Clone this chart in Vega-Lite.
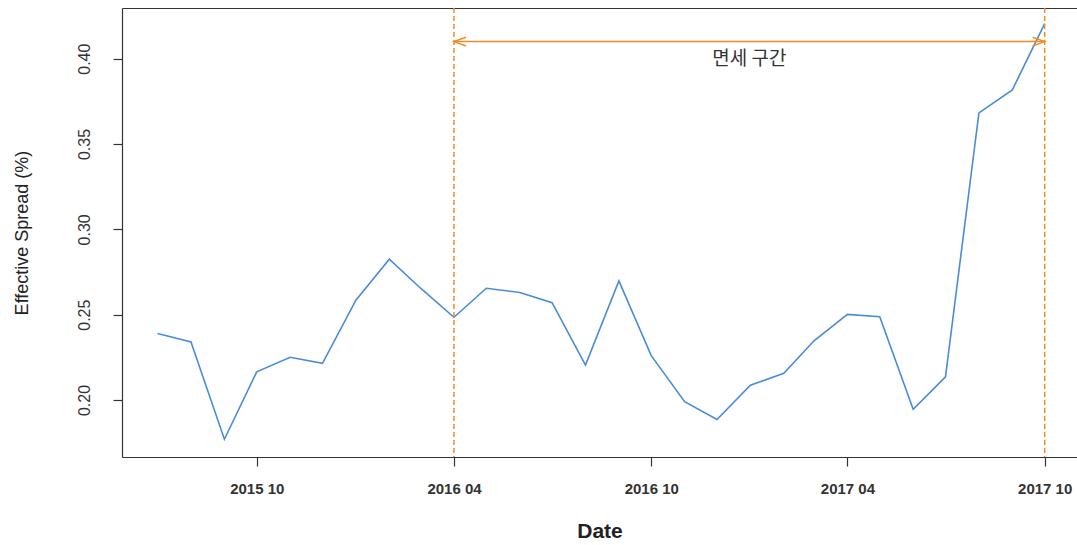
{
  "$schema": "https://vega.github.io/schema/vega-lite/v6.json",
  "width": 955,
  "height": 449,
  "autosize": {"type": "none"},
  "padding": {"left": 122, "top": 8, "right": 0, "bottom": 88},
  "background": "white",
  "config": {
    "view": {"stroke": null},
    "font": "Liberation Sans",
    "axis": {"grid": false, "domainColor": "#333333", "tickColor": "#333333", "labelColor": "#333333", "titleColor": "#222222", "domainWidth": 1.2, "tickWidth": 1.2}
  },
  "datasets": {
    "series": [
      {"date": "2015-07-01", "value": 0.239},
      {"date": "2015-08-01", "value": 0.234},
      {"date": "2015-09-01", "value": 0.177},
      {"date": "2015-10-01", "value": 0.2165},
      {"date": "2015-11-01", "value": 0.225},
      {"date": "2015-12-01", "value": 0.2215},
      {"date": "2016-01-01", "value": 0.2585},
      {"date": "2016-02-01", "value": 0.2825},
      {"date": "2016-03-01", "value": 0.2655},
      {"date": "2016-04-01", "value": 0.2485},
      {"date": "2016-05-01", "value": 0.2655},
      {"date": "2016-06-01", "value": 0.263},
      {"date": "2016-07-01", "value": 0.257},
      {"date": "2016-08-01", "value": 0.2205},
      {"date": "2016-09-01", "value": 0.2698},
      {"date": "2016-10-01", "value": 0.226},
      {"date": "2016-11-01", "value": 0.199},
      {"date": "2016-12-01", "value": 0.1886},
      {"date": "2017-01-01", "value": 0.2087},
      {"date": "2017-02-01", "value": 0.2156},
      {"date": "2017-03-01", "value": 0.2347},
      {"date": "2017-04-01", "value": 0.2502},
      {"date": "2017-05-01", "value": 0.2488},
      {"date": "2017-06-01", "value": 0.1945},
      {"date": "2017-07-01", "value": 0.2136},
      {"date": "2017-08-01", "value": 0.3682},
      {"date": "2017-09-01", "value": 0.3817},
      {"date": "2017-10-01", "value": 0.4205}
    ],
    "markers": [
      {"date": "2016-04-01"},
      {"date": "2017-10-01"}
    ],
    "span": [
      {"start": "2016-04-01", "end": "2017-10-01", "middle": "2016-12-31", "label": "면세 구간"}
    ]
  },
  "resolve": {"axis": {"x": "independent"}},
  "layer": [
    {
      "data": {"name": "series"},
      "mark": {"type": "line", "color": "#4A8CD6", "strokeWidth": 1.6},
      "encoding": {
        "x": {
          "field": "date", "type": "temporal",
          "scale": {"type": "utc", "domain": [{"year": 2015, "month": 5, "date": 29, "utc": true}, {"year": 2017, "month": 10, "date": 31, "utc": true}]},
          "axis": {
            "orient": "bottom",
            "values": [
              {"year": 2015, "month": 10, "date": 1, "utc": true},
              {"year": 2016, "month": 4, "date": 1, "utc": true},
              {"year": 2016, "month": 10, "date": 1, "utc": true},
              {"year": 2017, "month": 4, "date": 1, "utc": true},
              {"year": 2017, "month": 10, "date": 1, "utc": true}
            ],
            "format": "%Y %m",
            "labelFontSize": 15, "labelFontWeight": "bold", "labelPadding": 15, "tickSize": 9,
            "title": "Date", "titleFontSize": 21, "titleFontWeight": "bold", "titlePadding": 24
          }
        },
        "y": {
          "field": "value", "type": "quantitative",
          "scale": {"domain": [0.1666, 0.4297], "zero": false, "nice": false},
          "axis": {
            "values": [0.2, 0.25, 0.3, 0.35, 0.4], "format": ".2f",
            "labelAngle": -90, "labelAlign": "center", "labelBaseline": "bottom",
            "labelFontSize": 16, "labelPadding": 21, "tickSize": 9,
            "title": "Effective Spread (%)", "titleFontSize": 18, "titleFontWeight": "normal", "titlePadding": 45
          }
        }
      }
    },
    {
      "data": {"name": "markers"},
      "mark": {"type": "rule", "color": "#F28C28", "strokeWidth": 1.5, "strokeDash": [5, 3]},
      "encoding": {
        "x": {"field": "date", "type": "temporal", "axis": {"orient": "top", "labels": false, "ticks": false, "title": null, "domain": true}}
      }
    },
    {
      "data": {"name": "span"},
      "mark": {"type": "rule", "color": "#F28C28", "strokeWidth": 1.5},
      "encoding": {
        "x": {"field": "start", "type": "temporal", "axis": null},
        "x2": {"field": "end"},
        "y": {"datum": 0.41, "type": "quantitative"}
      }
    },
    {
      "data": {"name": "span"},
      "mark": {"type": "point", "shape": "M2.2,-0.8L0,0L2.2,0.8", "filled": false, "color": "#F28C28", "strokeWidth": 1.5, "size": 120, "opacity": 1},
      "encoding": {
        "x": {"field": "start", "type": "temporal", "axis": null},
        "y": {"datum": 0.41, "type": "quantitative"}
      }
    },
    {
      "data": {"name": "span"},
      "mark": {"type": "point", "shape": "M-2.2,-0.8L0,0L-2.2,0.8", "filled": false, "color": "#F28C28", "strokeWidth": 1.5, "size": 120, "opacity": 1},
      "encoding": {
        "x": {"field": "end", "type": "temporal", "axis": null},
        "y": {"datum": 0.41, "type": "quantitative"}
      }
    },
    {
      "data": {"name": "span"},
      "mark": {"type": "text", "font": "Noto Sans CJK KR", "fontSize": 19, "color": "#333333", "align": "center", "baseline": "middle"},
      "encoding": {
        "x": {"field": "middle", "type": "temporal", "axis": null},
        "y": {"datum": 0.4, "type": "quantitative"},
        "text": {"field": "label"}
      }
    }
  ]
}
